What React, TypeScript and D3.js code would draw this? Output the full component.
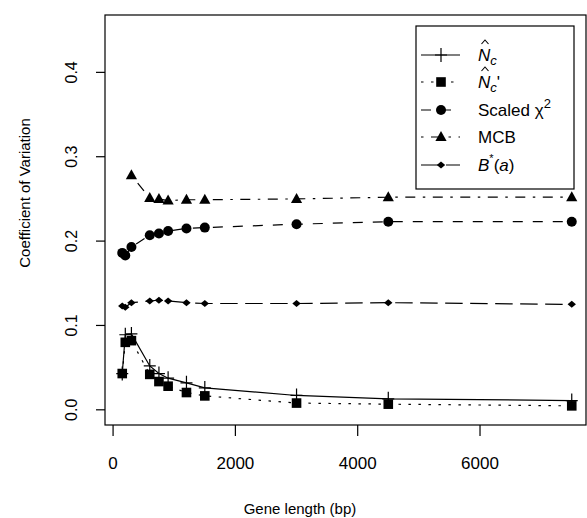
import React from "react";
import * as d3 from "d3";

const geneLength = [150, 200, 300, 600, 750, 900, 1200, 1500, 3000, 4500, 7500];
const ncHat = [0.043, 0.089, 0.09, 0.052, 0.043, 0.0375, 0.032, 0.026, 0.017, 0.013, 0.011];
const ncHatPrime = [0.043, 0.08, 0.082, 0.042, 0.0335, 0.028, 0.0205, 0.0165, 0.008, 0.0067, 0.0047];
const scaledChi2 = [0.186, 0.183, 0.193, 0.207, 0.209, 0.212, 0.215, 0.216, 0.22, 0.223, 0.223];
const mcbLength = [300, 600, 750, 900, 1200, 1500, 3000, 4500, 7500];
const mcb = [0.278, 0.251, 0.25, 0.248, 0.249, 0.249, 0.25, 0.252, 0.252];
const bStar = [0.123, 0.1215, 0.127, 0.129, 0.13, 0.129, 0.127, 0.126, 0.126, 0.127, 0.125];
const xTicks = [0, 2000, 4000, 6000];
const yTicks = [0, 0.1, 0.2, 0.3, 0.4];
const yTickLabels = ["0.0", "0.1", "0.2", "0.3", "0.4"];

const W = 587, H = 518;
const L = 105, R = 586, T = 15, B = 425;
const FONT = "'Liberation Sans', Arial, Helvetica, sans-serif";

const x = d3.scaleLinear().domain([-132, 7733]).range([L, R]);
const y = d3.scaleLinear().domain([-0.018, 0.468]).range([B, T]);

type Shape = "plus" | "square" | "circle" | "triangle" | "diamond";

function Marker({ cx, cy, shape }: { cx: number; cy: number; shape: Shape }) {
  if (shape === "plus")
    return <path d={`M${cx - 6},${cy}H${cx + 6}M${cx},${cy - 7}V${cy + 7}`} stroke="#000" strokeWidth={1.2} fill="none" />;
  if (shape === "square") return <rect x={cx - 4.8} y={cy - 4.8} width={9.6} height={9.6} fill="#000" />;
  if (shape === "circle") return <circle cx={cx} cy={cy} r={5} fill="#000" />;
  if (shape === "triangle")
    return <path d={`M${cx},${cy - 6}L${cx + 5.6},${cy + 4}L${cx - 5.6},${cy + 4}Z`} fill="#000" />;
  return <path d={`M${cx},${cy - 3.5}L${cx + 4.2},${cy}L${cx},${cy + 3.5}L${cx - 4.2},${cy}Z`} fill="#000" />;
}

const series = [
  { xs: geneLength, ys: ncHat, shape: "plus" as Shape, dash: "none" },
  { xs: geneLength, ys: ncHatPrime, shape: "square" as Shape, dash: "2.5,7.5" },
  { xs: geneLength, ys: scaledChi2, shape: "circle" as Shape, dash: "10,10" },
  { xs: mcbLength, ys: mcb, shape: "triangle" as Shape, dash: "2.5,7.5,10,7.5" },
  { xs: geneLength, ys: bStar, shape: "diamond" as Shape, dash: "17.5,7.5" },
];

function Hat({ cx, top }: { cx: number; top: number }) {
  return <path d={`M${cx - 3.5},${top + 4}L${cx},${top}L${cx + 3.5},${top + 4}`} stroke="#000" strokeWidth={1.1} fill="none" />;
}

export default function App() {
  const line = d3
    .line<[number, number]>()
    .x((d) => x(d[0]))
    .y((d) => y(d[1]));
  const legendRows = [55, 82, 110, 137, 165];
  const tx = 478;
  return (
    <svg width={W} height={H} style={{ position: "absolute", left: 0, top: 0, background: "#fff" }} fontFamily={FONT}>
      <rect x={0} y={0} width={W} height={H} fill="#fff" />
      <rect x={L} y={T} width={R - L} height={B - T} fill="none" stroke="#000" strokeWidth={1.2} />
      {xTicks.map((t) => (
        <g key={t}>
          <line x1={x(t)} x2={x(t)} y1={B} y2={B + 11} stroke="#000" strokeWidth={1.2} />
          <text x={x(t)} y={469} textAnchor="middle" fontSize={17}>
            {t}
          </text>
        </g>
      ))}
      <text x={300} y={514} textAnchor="middle" fontSize={15}>
        Gene length (bp)
      </text>
      {yTicks.map((t, i) => (
        <g key={t}>
          <line x1={L - 9} x2={L} y1={y(t)} y2={y(t)} stroke="#000" strokeWidth={1.2} />
          <text transform={`translate(77,${y(t)}) rotate(-90)`} textAnchor="middle" fontSize={16}>
            {yTickLabels[i]}
          </text>
        </g>
      ))}
      <text transform={`translate(30,${193}) rotate(-90)`} textAnchor="middle" fontSize={15}>
        Coefficient of Variation
      </text>
      {series.map((s, i) => (
        <g key={i}>
          <path
            d={line(s.xs.map((v, j) => [v, s.ys[j]] as [number, number])) || ""}
            fill="none"
            stroke="#000"
            strokeWidth={1.2}
            strokeDasharray={s.dash}
          />
          {s.xs.map((v, j) => (
            <Marker key={j} cx={x(v)} cy={y(s.ys[j])} shape={s.shape} />
          ))}
        </g>
      ))}
      <rect x={416} y={26} width={158} height={163} fill="#fff" stroke="#000" strokeWidth={1.2} />
      {series.map((s, i) => (
        <g key={i}>
          <line x1={421} x2={460} y1={legendRows[i]} y2={legendRows[i]} stroke="#000" strokeWidth={1.2} strokeDasharray={s.dash} />
          <Marker cx={441} cy={legendRows[i]} shape={s.shape} />
        </g>
      ))}
      <g fontSize={17}>
        <text x={tx} y={legendRows[0] + 6} fontStyle="italic">
          N
          <tspan dy={4} fontSize={13}>c</tspan>
        </text>
        <Hat cx={tx + 7} top={legendRows[0] - 15} />
        <text x={tx} y={legendRows[1] + 6} fontStyle="italic">
          N
          <tspan dy={4} fontSize={13}>c</tspan>
          <tspan dy={-4} fontStyle="normal">'</tspan>
        </text>
        <Hat cx={tx + 7} top={legendRows[1] - 15} />
        <text x={tx} y={legendRows[2] + 6}>
          Scaled χ
          <tspan dy={-8} fontSize={13}>2</tspan>
        </text>
        <text x={tx} y={legendRows[3] + 6}>MCB</text>
        <text x={tx} y={legendRows[4] + 6}>
          <tspan fontStyle="italic">B</tspan>
          <tspan dy={-9} fontSize={11}>*</tspan>
          <tspan dy={9}>(</tspan>
          <tspan fontStyle="italic">a</tspan>
          <tspan>)</tspan>
        </text>
      </g>
    </svg>
  );
}
